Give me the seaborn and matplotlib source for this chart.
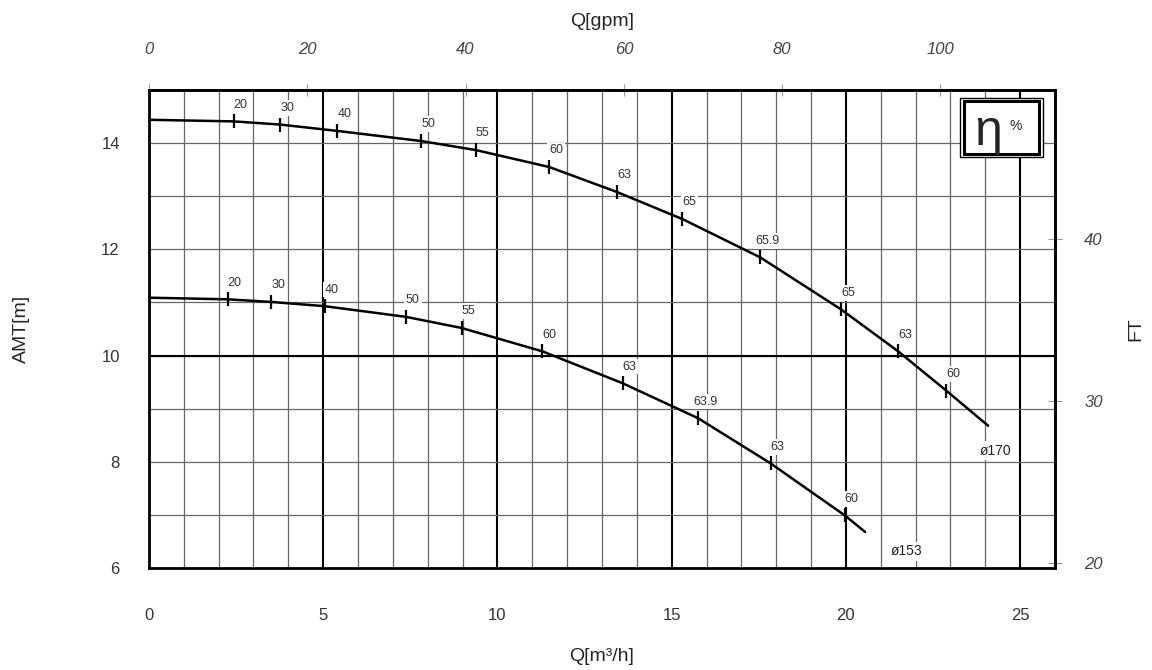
import seaborn as sns
import matplotlib.pyplot as plt
import pandas as pd
from matplotlib.patches import Rectangle

# Pump curves: flow Q [m3/h], head H [m]
# impeller ø170
q170 = [0, 2.43, 3.77, 5.41, 7.81, 9.38, 11.49, 13.43, 15.31, 17.54, 19.86, 21.5, 22.88, 24.08]
h170 = [14.44, 14.41, 14.35, 14.23, 14.04, 13.87, 13.55, 13.08, 12.57, 11.85, 10.87, 10.08, 9.34, 8.68]
eta170 = ['', '20', '30', '40', '50', '55', '60', '63', '65', '65.9', '65', '63', '60', '']

# impeller ø153
q153 = [0, 2.26, 3.51, 5.05, 7.37, 8.97, 11.29, 13.59, 15.76, 17.84, 19.97, 20.55]
h153 = [11.09, 11.06, 11.01, 10.93, 10.73, 10.52, 10.08, 9.48, 8.82, 7.97, 6.99, 6.68]
eta153 = ['', '20', '30', '40', '50', '55', '60', '63', '63.9', '63', '60', '']

x_ticks = [0, 5, 10, 15, 20, 25]
y_ticks = [6, 8, 10, 12, 14]
gpm_ticks = [0, 20, 40, 60, 80, 100]
ft_ticks = [20, 30, 40]

M3H_TO_GPM = 4.4029
M_TO_FT = 3.28084

df = pd.concat([
    pd.DataFrame({'Q': q170, 'H': h170, 'eta': eta170, 'imp': 'ø170'}),
    pd.DataFrame({'Q': q153, 'H': h153, 'eta': eta153, 'imp': 'ø153'}),
], ignore_index=True)

sns.set_style("white")
plt.rcParams['font.family'] = ['Liberation Sans', 'DejaVu Sans']

fig = plt.figure(figsize=(11.52, 6.70), dpi=100)
ax = fig.add_axes([0.1293, 0.1522, 0.7865, 0.7134])

# curves
sns.lineplot(data=df, x='Q', y='H', units='imp', estimator=None, sort=False,
             color='black', linewidth=1.8, ax=ax, legend=False, zorder=3)

# efficiency marks on the curves
marks = df[df['eta'] != '']
sns.scatterplot(data=marks, x='Q', y='H', marker='|', s=90, color='black',
                linewidth=1.6, ax=ax, legend=False, zorder=4)
for _, r in marks.iterrows():
    ax.annotate(r['eta'], (r['Q'], r['H']), xytext=(5, 12), textcoords='offset points',
                ha='center', va='center', fontsize=9, color='#333333', zorder=3,
                bbox=dict(boxstyle='square,pad=0.15', fc='white', ec='none'))

# impeller labels at curve ends
ax.annotate('ø170', (q170[-1], h170[-1]), xytext=(5, -18), textcoords='offset points',
            ha='center', va='center', fontsize=10, color='#222222', zorder=3,
            bbox=dict(boxstyle='square,pad=0.2', fc='white', ec='none'))
ax.annotate('ø153', (q153[-1], h153[-1]), xytext=(30, -14), textcoords='offset points',
            ha='center', va='center', fontsize=10, color='#222222', zorder=3,
            bbox=dict(boxstyle='square,pad=0.2', fc='white', ec='none'))

ax.set_xlim(0, 26)
ax.set_ylim(6, 15)
ax.set_xticks(x_ticks)
ax.set_xticks(range(0, 27), minor=True)
ax.set_yticks(y_ticks)
ax.set_yticks(range(6, 16), minor=True)

# grid: thin grey every unit, heavy black every 5 m3/h and at 10 m
ax.set_axisbelow(True)
ax.grid(which='minor', color='#666666', linewidth=0.9)
ax.grid(which='major', axis='y', color='#666666', linewidth=0.9)
ax.grid(which='major', axis='x', color='black', linewidth=1.5)
ax.axhline(10, color='black', linewidth=1.5, zorder=1)

for s in ax.spines.values():
    s.set_linewidth(2)
    s.set_color('black')

ax.tick_params(axis='x', which='major', direction='out', length=4, color='#999999',
               labelsize=12, labelcolor='#333333', pad=25)
ax.tick_params(axis='x', which='minor', direction='out', length=3, color='#bbbbbb')
ax.tick_params(axis='y', which='major', direction='out', length=5, color='#999999',
               labelsize=12, labelcolor='#333333', pad=16)
ax.tick_params(axis='y', which='minor', length=0)

ax.set_xlabel('Q[m³/h]', fontsize=14, labelpad=18)
ax.set_ylabel('AMT[m]', fontsize=14, labelpad=51)

# top axis in gpm
top = ax.secondary_xaxis('top', functions=(lambda q: q * M3H_TO_GPM, lambda g: g / M3H_TO_GPM))
top.set_xticks(gpm_ticks)
top.tick_params(direction='inout', length=8, color='#999999', labelsize=12,
                labelcolor='#444444', pad=20)
for lbl in top.get_xticklabels():
    lbl.set_style('italic')
top.set_xlabel('Q[gpm]', fontsize=14, labelpad=11)
top.spines['top'].set_linewidth(2)

# right axis in feet
right = ax.secondary_yaxis('right', functions=(lambda m: m * M_TO_FT, lambda f: f / M_TO_FT))
right.set_yticks(ft_ticks)
right.tick_params(direction='inout', length=10, color='#999999', labelsize=12,
                  labelcolor='#444444', pad=16)
for lbl in right.get_yticklabels():
    lbl.set_style('italic')
right.set_ylabel('FT', fontsize=14, labelpad=18)
right.spines['right'].set_linewidth(2)

# eta % box
ax.add_patch(Rectangle((0.895, 0.860), 0.0916, 0.1234, transform=ax.transAxes,
                       fc='white', ec='black', lw=1, zorder=5))
ax.add_patch(Rectangle((0.900, 0.866), 0.0828, 0.111, transform=ax.transAxes,
                       fill=False, ec='black', lw=2.2, zorder=6))
ax.text(0.926, 0.912, 'η', transform=ax.transAxes, fontsize=36, ha='center',
        va='center', zorder=7)
ax.text(0.957, 0.925, '%', transform=ax.transAxes, fontsize=10, ha='center',
        va='center', zorder=7)

fig.savefig('out.png', dpi=100)
